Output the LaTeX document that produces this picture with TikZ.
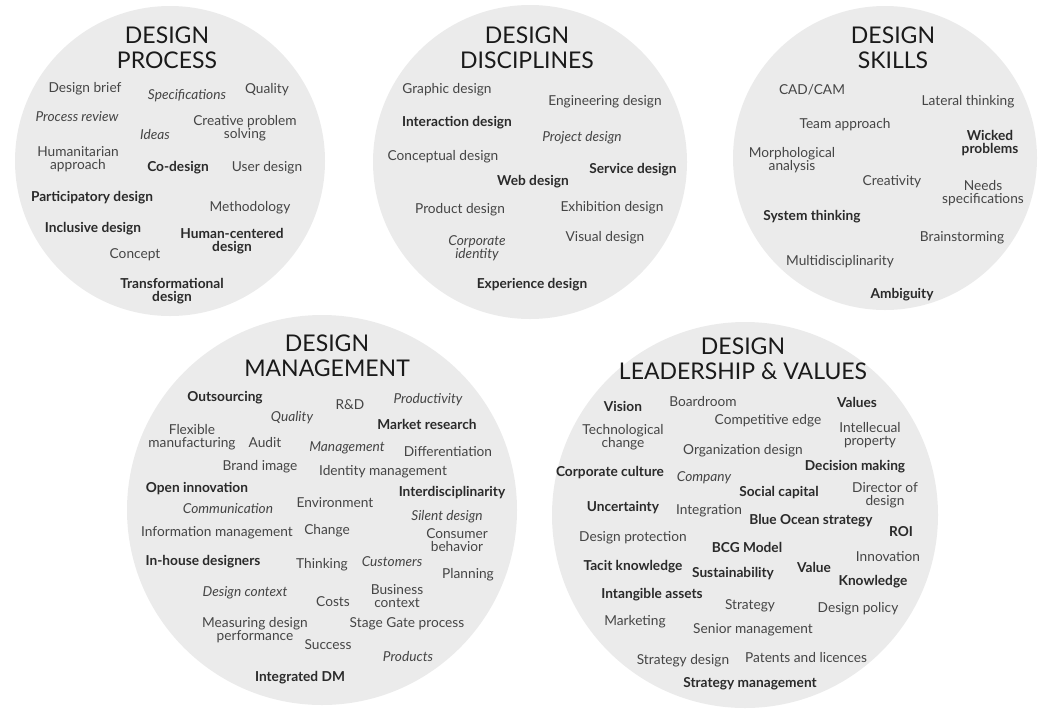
\documentclass[tikz,border=0pt]{standalone}
\usepackage{fontspec}
\setmainfont{Lato}
\definecolor{circ}{HTML}{EBEBEB}
\definecolor{tg}{HTML}{454545}
\definecolor{tb}{HTML}{2A2A2A}
\definecolor{tt}{HTML}{1A1A1A}
\tikzset{
  lbl/.style={text=tg, align=center, inner sep=0pt, font=\fontsize{13.7}{13}\selectfont},
  bl/.style={lbl, text=tb, font=\fontsize{13.7}{13}\selectfont\bfseries},
  it/.style={lbl, font=\fontsize{13.7}{13}\selectfont\itshape},
  ttl/.style={text=tt, align=center, inner sep=0pt, font=\fontsize{23}{25}\selectfont},
  disc/.style={fill=circ, draw=none}
}
\begin{document}
\begin{tikzpicture}[x=1pt,y=-1pt]
\useasboundingbox (0,0) rectangle (1040,710);
% circles
\fill[disc] (170,161) circle (155);
\fill[disc] (530,162) circle (157);
\fill[disc] (885,158) circle (152);
\fill[disc] (322,510) circle (195);
\fill[disc] (745,515) circle (193);

% ---------- DESIGN PROCESS ----------
\node[ttl] (t1) at (167,48) {DESIGN\\PROCESS};
\node[lbl] (a1) at (85,89) {Design brief};
\node[it]  (a2) at (187,96) {Specifications};
\node[lbl] (a3) at (267,90) {Quality};
\node[it]  (a4) at (77,117) {Process review};
\node[lbl] (a5) at (245,128) {Creative problem\\solving};
\node[it]  (a6) at (155,135) {Ideas};
\node[lbl] (a7) at (78,159) {Humanitarian\\approach};
\node[bl]  (a8) at (178,168) {Co-design};
\node[lbl] (a9) at (267,168) {User design};
\node[bl]  (a10) at (92,198) {Participatory design};
\node[lbl] (a11) at (250,208) {Methodology};
\node[bl]  (a12) at (93,229) {Inclusive design};
\node[bl]  (a13) at (232,241) {Human-centered\\design};
\node[lbl] (a14) at (135,255) {Concept};
\node[bl]  (a15) at (172,291) {Transformational\\design};

% ---------- DESIGN DISCIPLINES ----------
\node[ttl] (t2) at (527,48) {DESIGN\\DISCIPLINES};
\node[lbl] (b1) at (447,90) {Graphic design};
\node[lbl] (b2) at (605,102) {Engineering design};
\node[bl]  (b3) at (457,123) {Interaction design};
\node[it]  (b4) at (582,138) {Project design};
\node[lbl] (b5) at (443,157) {Conceptual design};
\node[bl]  (b6) at (633,170) {Service design};
\node[bl]  (b7) at (533,182) {Web design};
\node[lbl] (b8) at (460,210) {Product design};
\node[lbl] (b9) at (612,208) {Exhibition design};
\node[it]  (b10) at (477,248) {Corporate\\identity};
\node[lbl] (b11) at (605,238) {Visual design};
\node[bl]  (b12) at (532,285) {Experience design};

% ---------- DESIGN SKILLS ----------
\node[ttl] (t3) at (893,48) {DESIGN\\SKILLS};
\node[lbl] (c1) at (812,90) {CAD/CAM};
\node[lbl] (c2) at (968,102) {Lateral thinking};
\node[lbl] (c3) at (845,125) {Team approach};
\node[bl]  (c4) at (990,143) {Wicked\\problems};
\node[lbl] (c5) at (792,160) {Morphological\\analysis};
\node[lbl] (c6) at (892,182) {Creativity};
\node[lbl] (c7) at (983,193) {Needs\\specifications};
\node[bl]  (c8) at (812,217) {System thinking};
\node[lbl] (c9) at (962,238) {Brainstorming};
\node[lbl] (c10) at (840,262) {Multidisciplinarity};
\node[bl]  (c11) at (902,295) {Ambiguity};

% ---------- DESIGN MANAGEMENT ----------
\node[ttl] (t4) at (327,356) {DESIGN\\MANAGEMENT};
\node[bl]  (d1) at (225,398) {Outsourcing};
\node[lbl] (d2) at (350,405) {R\&D};
\node[it]  (d3) at (428,400) {Productivity};
\node[it]  (d4) at (292,418) {Quality};
\node[bl]  (d5) at (427,424) {Market research};
\node[lbl] (d6) at (192,437) {Flexible\\manufacturing};
\node[lbl] (d7) at (265,442) {Audit};
\node[it]  (d8) at (347,448) {Management};
\node[lbl] (d9) at (448,452) {Differentiation};
\node[lbl] (d10) at (260,467) {Brand image};
\node[lbl] (d11) at (383,472) {Identity management};
\node[bl]  (d12) at (197,489) {Open innovation};
\node[bl]  (d13) at (452,493) {Interdisciplinarity};
\node[it]  (d14) at (228,509) {Communication};
\node[lbl] (d15) at (335,503) {Environment};
\node[it]  (d16) at (447,517) {Silent design};
\node[lbl] (d17) at (217,533) {Information management};
\node[lbl] (d18) at (327,531) {Change};
\node[lbl] (d19) at (457,540) {Consumer\\behavior};
\node[bl]  (d20) at (203,562) {In-house designers};
\node[lbl] (d21) at (322,565) {Thinking};
\node[it]  (d22) at (392,562) {Customers};
\node[lbl] (d23) at (468,575) {Planning};
\node[it]  (d24) at (245,593) {Design context};
\node[lbl] (d25) at (333,602) {Costs};
\node[lbl] (d26) at (397,596) {Business\\context};
\node[lbl] (d27) at (255,630) {Measuring design\\performance};
\node[lbl] (d28) at (407,624) {Stage Gate process};
\node[lbl] (d29) at (328,645) {Success};
\node[it]  (d30) at (408,656) {Products};
\node[bl]  (d31) at (300,678) {Integrated DM};

% ---------- DESIGN LEADERSHIP & VALUES ----------
\node[ttl] (t5) at (743,359) {DESIGN\\LEADERSHIP \& VALUES};
\node[bl]  (e1) at (623,406) {Vision};
\node[lbl] (e2) at (703,401) {Boardroom};
\node[bl]  (e3) at (857,402) {Values};
\node[lbl] (e4) at (768,421) {Competitive edge};
\node[lbl] (e5) at (623,437) {Technological\\change};
\node[lbl] (e6) at (870,435) {Intellecual\\property};
\node[lbl] (e7) at (743,451) {Organization design};
\node[bl]  (e8) at (855,467) {Decision making};
\node[bl]  (e9) at (610,473) {Corporate culture};
\node[it]  (e10) at (704,478) {Company};
\node[bl]  (e11) at (779,493) {Social capital};
\node[lbl] (e12) at (885,495) {Director of\\design};
\node[bl]  (e13) at (623,508) {Uncertainty};
\node[lbl] (e14) at (709,511) {Integration};
\node[bl]  (e15) at (811,521) {Blue Ocean strategy};
\node[bl]  (e16) at (901,532) {ROI};
\node[lbl] (e17) at (633,538) {Design protection};
\node[bl]  (e18) at (747,547) {BCG Model};
\node[lbl] (e19) at (888,557) {Innovation};
\node[bl]  (e20) at (633,567) {Tacit knowledge};
\node[bl]  (e21) at (733,574) {Sustainability};
\node[bl]  (e22) at (814,567) {Value};
\node[bl]  (e23) at (873,582) {Knowledge};
\node[bl]  (e24) at (652,595) {Intangible assets};
\node[lbl] (e25) at (750,606) {Strategy};
\node[lbl] (e26) at (858,609) {Design policy};
\node[lbl] (e27) at (635,622) {Marketing};
\node[lbl] (e28) at (753,630) {Senior management};
\node[lbl] (e29) at (683,661) {Strategy design};
\node[lbl] (e30) at (806,657) {Patents and licences};
\node[bl]  (e31) at (750,684) {Strategy management};
\end{tikzpicture}
\end{document}
